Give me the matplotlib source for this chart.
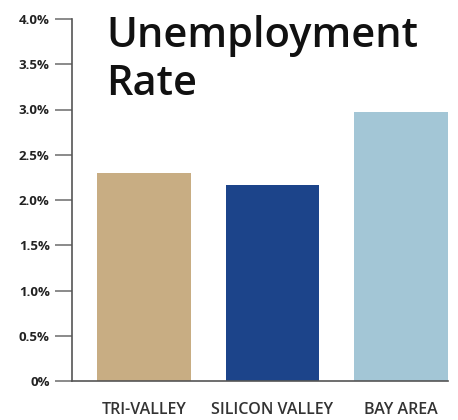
import matplotlib
matplotlib.use("Agg")
import matplotlib.pyplot as plt
from matplotlib.ticker import FuncFormatter

regions = ["TRI-VALLEY", "SILICON VALLEY", "BAY AREA"]
rates = [2.30, 2.17, 2.97]
colors = ["#c8ad83", "#1c448a", "#a3c6d6"]
yticks = [0, 0.5, 1.0, 1.5, 2.0, 2.5, 3.0, 3.5, 4.0]

plt.rcParams["font.family"] = ["Open Sans", "DejaVu Sans"]

fig = plt.figure(figsize=(4.58, 4.2), dpi=100)
ax = fig.add_axes([72 / 458, 39 / 420, 376 / 458, 362 / 420])

x = range(len(regions))
ax.bar(x, rates, width=0.73, color=colors)

ax.set_xlim(-0.56, 2.366)
ax.set_ylim(0, 4.0)
ax.set_yticks(yticks)
ax.yaxis.set_major_formatter(FuncFormatter(lambda v, p: "0%" if v == 0 else f"{v:.1f}%"))
ax.set_xticks(list(x))
ax.set_xticklabels(regions)

for s in ["top", "right"]:
    ax.spines[s].set_visible(False)
for s in ["left", "bottom"]:
    ax.spines[s].set_color("#555555")
    ax.spines[s].set_linewidth(1.2)

ax.tick_params(axis="y", length=12, width=1.2, color="#777777", pad=4,
               labelsize=9.5, labelcolor="#222222")
ax.tick_params(axis="x", length=0, pad=15, labelsize=11.5, labelcolor="#333333")
for lab in ax.get_yticklabels():
    lab.set_fontweight("bold")
for lab in ax.get_xticklabels():
    lab.set_fontweight("semibold")

# title inside the plot, two lines
ax.text(106 / 458, 1 - 47 / 420, "Unemployment", transform=fig.transFigure,
        fontsize=30, fontweight="semibold", color="#111111", ha="left", va="baseline")
ax.text(106 / 458, 1 - 95 / 420, "Rate", transform=fig.transFigure,
        fontsize=30, fontweight="semibold", color="#111111", ha="left", va="baseline")

fig.savefig("out.png", dpi=100)
